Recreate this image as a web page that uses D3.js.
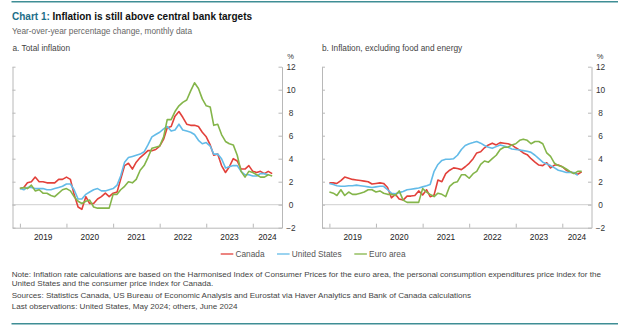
<!DOCTYPE html>
<html>
<head>
<meta charset="utf-8">
<script src="https://cdn.jsdelivr.net/npm/d3@7"></script>
<style>
  body { margin: 0; background: #fff; }
  svg { font-family: "Liberation Sans", Arial, sans-serif; }
  .frame path, .frame line { stroke: #b8b8b8; }
  .series { fill: none; stroke-width: 1.6px; stroke-linejoin: round; }
</style>
</head>
<body>
<svg width="624" height="329"></svg>
<script>
// monthly data, Jan 2019 onwards
var years = [2019, 2020, 2021, 2022, 2023, 2024]
var yTicks = [-2, 0, 2, 4, 6, 8, 10, 12]

var canadaTotal = [1.4, 1.5, 1.9, 2.0, 2.4, 2.0, 2.0, 1.9, 1.9, 1.9, 2.2, 2.2,
  2.4, 2.2, 0.9, -0.2, -0.4, 0.7, 0.1, 0.1, 0.5, 0.7, 1.0, 0.7,
  1.0, 1.1, 2.2, 3.4, 3.6, 3.1, 3.7, 4.1, 4.4, 4.7, 4.7, 4.8,
  5.1, 5.7, 6.7, 6.8, 7.7, 8.1, 7.6, 7.0, 6.9, 6.9, 6.8, 6.3,
  5.9, 5.2, 4.3, 4.4, 3.4, 2.8, 3.3, 4.0, 3.8, 3.1, 3.1, 3.4,
  2.9, 2.8, 2.9, 2.7, 2.9, 2.7]
var usTotal = [1.4, 1.3, 1.5, 1.5, 1.4, 1.4, 1.4, 1.3, 1.3, 1.4, 1.5, 1.6,
  1.8, 1.8, 1.3, 0.5, 0.5, 0.9, 1.1, 1.3, 1.4, 1.2, 1.2, 1.3,
  1.4, 1.7, 2.5, 3.7, 4.1, 4.2, 4.3, 4.4, 4.6, 5.2, 5.9, 6.1,
  6.3, 6.6, 6.8, 6.4, 6.5, 7.0, 6.5, 6.4, 6.3, 6.1, 5.6, 5.3,
  5.4, 5.1, 4.4, 4.4, 4.0, 3.2, 3.3, 3.4, 3.4, 2.9, 2.6, 2.6,
  2.5, 2.5, 2.7, 2.7, 2.6]
var euroTotal = [1.4, 1.5, 1.4, 1.7, 1.2, 1.3, 1.0, 1.0, 0.8, 0.7, 1.0, 1.3,
  1.4, 1.2, 0.7, 0.3, 0.1, 0.3, 0.4, -0.2, -0.3, -0.3, -0.3, -0.3,
  0.9, 0.9, 1.3, 1.6, 2.0, 1.9, 2.2, 3.0, 3.4, 4.1, 4.9, 5.0,
  5.1, 5.9, 7.4, 7.4, 8.1, 8.6, 8.9, 9.1, 9.9, 10.6, 10.1, 9.2,
  8.6, 8.5, 6.9, 7.0, 6.1, 5.5, 5.3, 5.2, 4.3, 2.9, 2.4, 2.9,
  2.8, 2.6, 2.4, 2.4, 2.6, 2.5]

var canadaCore = [1.9, 1.9, 1.85, 2.1, 2.4, 2.3, 2.2, 2.15, 2.1, 2.05, 2.0, 1.8,
  1.85, 1.9, 1.85, 1.5, 0.6, 0.9, 0.5, 0.4, 0.75, 0.75, 0.8, 1.2,
  0.85, 1.3, 0.7, 0.85, 2.15, 2.0, 2.7, 3.0, 3.2, 3.15, 3.05, 3.3,
  3.6, 4.0, 4.5, 4.6, 4.95, 5.2, 5.35, 5.2, 5.4, 5.35, 5.3, 5.2,
  4.95, 4.75, 4.5, 4.35, 4.0, 3.7, 3.45, 3.4, 3.65, 3.2, 3.45, 3.45,
  3.3, 3.0, 2.85, 2.75, 2.65, 2.85]
var usCore = [1.85, 1.75, 1.65, 1.6, 1.6, 1.65, 1.65, 1.7, 1.65, 1.6, 1.55, 1.5,
  1.55, 1.6, 1.6, 1.3, 1.0, 0.95, 1.05, 1.15, 1.3, 1.35, 1.4, 1.45,
  1.55, 1.65, 1.75, 2.9, 3.5, 3.85, 3.95, 3.95, 4.0, 4.3, 4.8, 5.15,
  5.3, 5.4, 5.5, 5.35, 5.15, 5.0, 4.9, 5.05, 5.2, 5.1, 5.0, 4.85,
  4.8, 4.75, 4.7, 4.65, 4.55, 4.3, 4.0, 3.7, 3.55, 3.4, 3.2, 3.0,
  2.9, 2.8, 2.8, 2.8, 2.55]
var euroCore = [1.1, 1.0, 0.8, 1.3, 0.8, 1.1, 0.9, 0.9, 1.0, 1.1, 1.3, 1.3,
  1.1, 1.2, 1.0, 0.9, 0.9, 0.8, 1.2, 0.4, 0.2, 0.2, 0.2, 0.2,
  1.4, 1.1, 0.9, 0.7, 1.0, 0.9, 0.7, 1.6, 1.9, 2.0, 2.6, 2.6,
  2.3, 2.7, 2.9, 3.5, 3.8, 3.7, 4.0, 4.3, 4.8, 5.0, 5.0, 5.2,
  5.3, 5.6, 5.7, 5.6, 5.3, 5.5, 5.5, 5.3, 4.5, 4.2, 3.6, 3.4,
  3.3, 3.1, 2.9, 2.7, 2.9, 2.9]

var seriesNames = ['Canada', 'United States', 'Euro area']
var colors = ['#e2413b', '#63bbe8', '#84b54a']

var panels = [
  { label: 'a. Total inflation', x0: 12.5, x1: 282, data: [canadaTotal, usTotal, euroTotal] },
  { label: 'b. Inflation, excluding food and energy', x0: 322, x1: 591.5, data: [canadaCore, usCore, euroCore] }
]

var svg = d3.select('svg')
var teal = '#3f8e95'

svg.append('line').attr('x1', 11.5).attr('x2', 618).attr('y1', 1.7).attr('y2', 1.7)
  .attr('stroke', teal).attr('stroke-width', 1.5)
svg.append('line').attr('x1', 11.5).attr('x2', 618).attr('y1', 323.7).attr('y2', 323.7)
  .attr('stroke', teal).attr('stroke-width', 1.5)

var title = svg.append('text').attr('x', 12).attr('y', 19.6)
  .style('font-size', '10px').style('font-weight', 'bold')
title.append('tspan').attr('fill', '#1d6e88').text('Chart 1: ')
title.append('tspan').attr('fill', '#111').text('Inflation is still above central bank targets')

svg.append('text').attr('x', 12).attr('y', 34)
  .style('font-size', '8.3px').attr('fill', '#666')
  .text('Year-over-year percentage change, monthly data')

var y = d3.scaleLinear().domain([-2, 12]).range([227.7, 66.7])

panels.forEach(function(p) {
  var x = d3.scaleTime()
    .domain([new Date(2018, 10, 4), new Date(2024, 7, 17)])
    .range([p.x0, p.x1])
  var g = svg.append('g')

  g.append('text').attr('x', p.x0).attr('y', 50.6)
    .style('font-size', '8.3px').attr('fill', '#444').text(p.label)

  // zero line
  g.append('line').attr('x1', p.x0).attr('x2', p.x1)
    .attr('y1', y(0)).attr('y2', y(0))
    .attr('stroke', '#cfcfcf').attr('stroke-width', 1)

  // left frame with inward ticks
  g.append('g').attr('class', 'frame')
    .attr('transform', 'translate(' + p.x0 + ',0)')
    .call(d3.axisRight(y).tickValues(yTicks).tickSize(3).tickSizeOuter(0).tickFormat(''))

  // right axis with labels
  var ra = g.append('g').attr('class', 'frame')
    .attr('transform', 'translate(' + p.x1 + ',0)')
    .call(d3.axisLeft(y).tickValues(yTicks).tickSize(3.5).tickSizeOuter(0))
  ra.selectAll('text').attr('x', 9).attr('text-anchor', 'middle')
    .style('font-size', '8.3px').style('font-family', 'inherit').attr('fill', '#333')

  g.append('text').attr('x', p.x1 + 8.5).attr('y', 58.5).attr('text-anchor', 'middle')
    .style('font-size', '7.5px').attr('fill', '#333').text('%')

  // bottom axis, ticks at year starts
  var yearStarts = years.map(function(yr) { return new Date(yr, 0, 1) })
  g.append('g').attr('class', 'frame')
    .attr('transform', 'translate(0,' + y(-2) + ')')
    .call(d3.axisTop(x).tickValues(yearStarts).tickSize(4).tickSizeOuter(0).tickFormat(''))

  g.selectAll('text.year').data(years).enter().append('text')
    .attr('class', 'year')
    .attr('x', function(yr) {
      var a = x(new Date(yr, 0, 1))
      var b = Math.min(x(new Date(yr + 1, 0, 1)), p.x1)
      return (a + b) / 2
    })
    .attr('y', 239.7).attr('text-anchor', 'middle')
    .style('font-size', '8.3px').attr('fill', '#222')
    .text(function(yr) { return yr })

  var line = d3.line()
    .x(function(d, i) { return x(new Date(2019, i, 1)) })
    .y(function(d) { return y(d) })

  g.selectAll('path.series').data(p.data).enter().append('path')
    .attr('class', 'series')
    .attr('stroke', function(d, i) { return colors[i] })
    .attr('d', line)
})

// legend
var legendX = [220.7, 277, 354.3]
var lg = svg.append('g').selectAll('g').data(seriesNames).enter().append('g')
  .attr('transform', function(d, i) { return 'translate(' + legendX[i] + ',254)' })
lg.append('line').attr('x1', 0).attr('x2', 12.6)
  .attr('stroke', function(d, i) { return colors[i] }).attr('stroke-width', 1.3)
lg.append('text').attr('x', 14.8).attr('y', 3)
  .style('font-size', '8.3px').attr('fill', '#555').text(function(d) { return d })

var notes = [
  ['Note: Inflation rate calculations are based on the Harmonised Index of Consumer Prices for the euro area, the personal consumption expenditures price index for the', 276.7],
  ['United States and the consumer price index for Canada.', 286],
  ['Sources: Statistics Canada, US Bureau of Economic Analysis and Eurostat via Haver Analytics and Bank of Canada calculations', 298.3],
  ['Last observations: United States, May 2024; others, June 2024', 309.3]
]
svg.selectAll('text.note').data(notes).enter().append('text')
  .attr('class', 'note')
  .attr('x', 11.7).attr('y', function(d) { return d[1] })
  .style('font-size', '8.1px').attr('fill', '#444')
  .text(function(d) { return d[0] })
</script>
</body>
</html>
